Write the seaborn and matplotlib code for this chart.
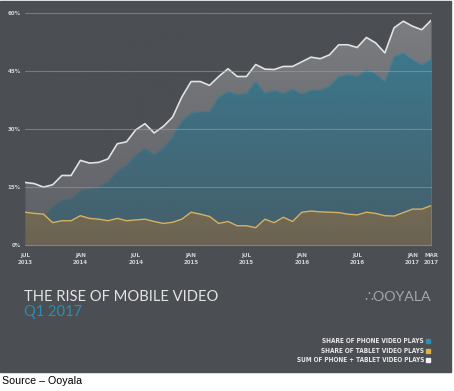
import numpy as np
import pandas as pd
import matplotlib
matplotlib.use("Agg")
import matplotlib.pyplot as plt
from matplotlib.patches import Rectangle
import seaborn as sns

# Data (monthly, Jul 2013 -> Mar 2017)
months = pd.date_range("2013-07-01", "2017-03-01", freq="MS")
phone_share = [7.7, 7.7, 7.2, 9.8, 11.6, 11.9, 14.0, 14.4, 14.9, 16.2,
               19.1, 20.5, 23.2, 24.9, 23.3, 25.0, 28.0, 32.0, 34.0, 34.4,
               34.5, 38.2, 39.6, 38.9, 39.2, 42.2, 39.2, 39.9, 39.1, 40.2,
               39.0, 40.0, 40.0, 41.0, 43.5, 44.0, 43.6, 45.3, 44.2, 42.2,
               48.7, 49.6, 47.8, 46.5, 48.0]
tablet_share = [8.4, 8.1, 7.9, 5.7, 6.2, 6.2, 7.5, 6.8, 6.6, 6.2,
                6.8, 6.2, 6.4, 6.6, 6.0, 5.5, 5.8, 6.6, 8.4, 7.9,
                7.3, 5.5, 6.0, 4.9, 4.9, 4.4, 6.6, 5.7, 7.1, 6.0,
                8.4, 8.7, 8.5, 8.4, 8.3, 7.9, 7.7, 8.4, 8.1, 7.5,
                7.4, 8.3, 9.2, 9.2, 10.1]
sum_share = [16.1, 15.8, 14.9, 15.5, 17.9, 17.9, 21.8, 21.1, 21.3, 22.2,
             26.1, 26.6, 29.7, 31.3, 28.9, 30.6, 33.0, 38.2, 42.2, 42.2,
             41.2, 43.5, 45.5, 43.5, 43.5, 46.6, 45.4, 45.3, 46.1, 46.1,
             47.3, 48.5, 48.1, 49.1, 51.7, 51.7, 51.0, 53.6, 52.2, 49.6,
             56.1, 57.8, 56.5, 55.6, 58.0]
y_ticks = [0, 15, 30, 45, 60]
y_labels = ["0%", "15%", "30%", "45%", "60%"]
x_tick_months = ["2013-07", "2014-01", "2014-07", "2015-01", "2015-07",
                 "2016-01", "2016-07", "2017-01", "2017-03"]
legend_labels = ["SHARE OF PHONE VIDEO PLAYS", "SHARE OF TABLET VIDEO PLAYS",
                 "SUM OF PHONE + TABLET VIDEO PLAYS"]

df = pd.DataFrame({"month": months, "phone": phone_share,
                   "tablet": tablet_share, "total": sum_share})
df["idx"] = np.arange(len(df))

# colours
BG = "#4b4e53"
GREY_FILL = "#7c7e82"
TEAL = "#3b7c93"
GOLD = "#a48a54"
TEAL_TXT = "#2b8fb0"

sns.set_theme(style="dark", rc={"axes.facecolor": "none", "figure.facecolor": "white"})

fig = plt.figure(figsize=(4.54, 3.91), dpi=100)
fig.patches.append(Rectangle((0, 19 / 391), 451 / 454, 371 / 391,
                             transform=fig.transFigure, color=BG, zorder=-1))

ax = fig.add_axes([25 / 454, 1 - 244.7 / 391, 406 / 454, 232 / 391])
ax.set_facecolor("none")

x = df["idx"].values
ax.fill_between(x, 0, df["total"], color=GREY_FILL, lw=0, zorder=1)
ax.fill_between(x, 0, df["phone"], color=TEAL, lw=0, zorder=2)
ax.plot(x, df["phone"], color="#3f8aa3", lw=0.8, zorder=2)
ax.fill_between(x, 0, df["tablet"], color=GOLD, lw=0, zorder=3)

# darken towards the bottom
grad = np.zeros((200, 2, 4))
r, g, b = matplotlib.colors.to_rgb(BG)
grad[..., 0], grad[..., 1], grad[..., 2] = r, g, b
grad[..., 3] = np.linspace(0.0, 0.65, 200)[:, None]
ax.imshow(grad, extent=[0, 44, 0, 60], aspect="auto", origin="upper", zorder=4)

sns.lineplot(data=df, x="idx", y="tablet", color="#d6b263", lw=1.0, ax=ax, zorder=5)
sns.lineplot(data=df, x="idx", y="total", color="#e2e2e2", lw=1.2, ax=ax, zorder=6)

for yv in y_ticks:
    ax.axhline(yv, color="#9da0a4", lw=0.8, alpha=0.55, zorder=7, clip_on=False)

ax.set_xlim(0, 44)
ax.set_ylim(0, 60)
ax.grid(False)
for s in ax.spines.values():
    s.set_visible(False)

tick_font = dict(family="DejaVu Sans", stretch="condensed", weight="bold", size=4.4, color="#d0d1d3")
ax.set_yticks(y_ticks)
ax.set_yticklabels(y_labels, **tick_font)
xpos = [int(df.index[df["month"] == pd.Timestamp(m)][0]) for m in x_tick_months]
ax.set_xticks(xpos)
ax.set_xticklabels([pd.Timestamp(m).strftime("%b").upper() + "\n" + m[:4] for m in x_tick_months],
                   linespacing=1.5, **tick_font)
ax.tick_params(axis="y", length=0, pad=3)
ax.tick_params(axis="x", length=0, pad=6)
ax.set_xlabel("")
ax.set_ylabel("")

# title block
fig.text(24 / 454, 1 - 301 / 391, "THE RISE OF MOBILE VIDEO", family="Lato",
         size=10.6, color="#e4e4e4", va="baseline")
fig.text(24 / 454, 1 - 316 / 391, "Q1 2017", family="Lato",
         size=10.6, color=TEAL_TXT, va="baseline")
fig.text(431 / 454, 1 - 301 / 391, "∴OOYALA", family=["Lato", "DejaVu Sans"],
         size=10.2, color="#a5a7aa", va="baseline", ha="right")

# legend
leg_colors = [TEAL_TXT, "#e1b140", "#f2f2f2"]
for i, (lab, c) in enumerate(zip(legend_labels, leg_colors)):
    yy = 1 - (341 + i * 9.6) / 391
    fig.text(424 / 454, yy, lab, ha="right", va="center", family="DejaVu Sans",
             stretch="condensed", weight="bold", size=4.7, color="#e6e6e6")
    fig.patches.append(Rectangle((426 / 454, yy - 2 / 391), 4 / 454, 4 / 391,
                                 transform=fig.transFigure, color=c, zorder=3))

fig.text(2 / 454, 1 - 381.5 / 391, "Source – Ooyala", family="Liberation Sans",
         size=7.7, color="black", va="center")

fig.savefig("out.png", dpi=100)
